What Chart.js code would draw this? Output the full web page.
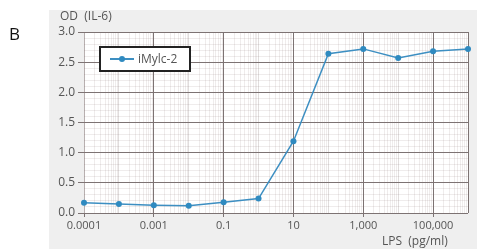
<!DOCTYPE html>
<html>
<head>
<meta charset="utf-8">
<script src="https://cdn.jsdelivr.net/npm/chart.js@4/dist/chart.umd.min.js"></script>
<style>
  html,body{margin:0;padding:0;background:#fff;width:477px;height:249px;overflow:hidden;font-family:"Open Sans",sans-serif;}
  #wrap{position:relative;width:477px;height:249px;}
  #panel{position:absolute;left:49px;top:10px;width:428px;height:239px;background:#efefef;}
  canvas{position:absolute;left:0;top:0;}
  .txt{position:absolute;white-space:nowrap;color:#555;font-size:12px;line-height:14px;}
  #lbB{left:9px;top:24px;font-size:17px;line-height:20px;color:#111;}
  #lbY{left:60px;top:9px;}
  #lbX{left:382px;top:234px;}
  #legend{position:absolute;left:99px;top:46px;width:88px;height:22px;border:2px solid #222;background:#fff;}
  #legend .ln{position:absolute;left:9px;top:10px;width:24px;height:2px;background:#3d8fc2;}
  #legend .pt{position:absolute;left:18px;top:8px;width:6px;height:6px;border-radius:50%;background:#2f8ac0;}
  #legend .tx{position:absolute;left:37px;top:3px;font-size:12px;line-height:15px;color:#555;}
</style>
</head>
<body>
<div id="wrap">
  <div id="panel"></div>
  <canvas id="c" width="477" height="249"></canvas>
  <div class="txt" id="lbB">B</div>
  <div class="txt" id="lbY">OD&nbsp; (IL-6)</div>
  <div class="txt" id="lbX">LPS&nbsp; (pg/ml)</div>
  <div id="legend"><div class="ln"></div><div class="pt"></div><div class="tx">iMylc-2</div></div>
</div>
<script>
// ---- data ----
const seriesName = "iMylc-2";
const lpsConc = [0.00001, 0.0001, 0.001, 0.01, 0.1, 1, 10, 100, 1000, 10000, 100000, 1000000];
const odValues = [0.17, 0.15, 0.13, 0.12, 0.18, 0.24, 1.19, 2.64, 2.72, 2.57, 2.68, 2.72];
const xTickValues = [0.00001, 0.001, 0.1, 10, 1000, 100000];
const xTickLabels = ["0.0001", "0.001", "0.1", "10", "1,000", "100,000"];
const yTickValues = [0, 0.5, 1, 1.5, 2, 2.5, 3];
const yTickLabels = ["0.0", "0.5", "1.0", "1.5", "2.0", "2.5", "3.0"];

const MAJOR = "#7d7373", MINOR = "rgba(120,100,100,0.12)", DECADE = "rgba(120,100,100,0.22)";

function near(a, b){ return Math.abs(a - b) <= Math.abs(b) * 1e-6 + 1e-12; }
function xLabelIndex(v){ return xTickValues.findIndex(t => near(v, t)); }
function yLabelIndex(v){ return yTickValues.findIndex(t => Math.abs(v - t) < 1e-6); }
function isDecade(v){ const e = Math.round(Math.log10(v)); return near(v, Math.pow(10, e)); }

const plotBg = {
  id: 'plotBg',
  beforeDraw(chart){
    const {ctx, chartArea:a} = chart;
    ctx.save();
    ctx.fillStyle = '#ffffff';
    ctx.fillRect(a.left, a.top, a.right - a.left, a.bottom - a.top);
    ctx.restore();
  }
};

const data = lpsConc.map((x, i) => ({x: x, y: odValues[i]}));

new Chart(document.getElementById('c'), {
  type: 'line',
  data: { datasets: [{
    label: seriesName,
    data: data,
    borderColor: '#3d8fc2',
    backgroundColor: '#2f8ac0',
    borderWidth: 1.5,
    pointRadius: 3,
    pointHoverRadius: 3,
    pointBorderWidth: 0,
    tension: 0,
    clip: false
  }]},
  plugins: [plotBg],
  options: {
    responsive: false,
    animation: false,
    events: [],
    layout: { padding: { top: 32, right: 9, left: 0, bottom: 0 } },
    plugins: { legend: { display: false }, tooltip: { enabled: false } },
    scales: {
      x: {
        type: 'logarithmic',
        min: 0.00001,
        max: 1000000,
        afterFit(s){ s.height = 36; },
        afterBuildTicks(s){
          const t = [];
          for (let e = -5; e < 6; e++) {
            for (let m = 1; m <= 9; m++) t.push({ value: m * Math.pow(10, e) });
          }
          t.push({ value: 1000000 });
          s.ticks = t;
        },
        border: { display: false },
        grid: {
          drawOnChartArea: true,
          tickLength: 4,
          color(ctx){
            const v = ctx.tick && ctx.tick.value;
            if (v === undefined) return MINOR;
            if (near(v, 1000000)) return MAJOR;
            if (near(v, 0.00001)) return '#b8b0b0';
            if (xLabelIndex(v) >= 0) return MAJOR;
            if (isDecade(v)) return DECADE;
            return MINOR;
          },
          tickColor(ctx){
            const v = ctx.tick && ctx.tick.value;
            return (v !== undefined && xLabelIndex(v) >= 0) ? MAJOR : 'rgba(0,0,0,0)';
          },
          lineWidth: 1
        },
        ticks: {
          autoSkip: false,
          maxRotation: 0,
          padding: 2,
          color: '#555',
          font: { family: '"Open Sans", sans-serif', size: 11 },
          callback(v){ const i = xLabelIndex(v); return i >= 0 ? xTickLabels[i] : ''; }
        }
      },
      y: {
        type: 'linear',
        min: 0,
        max: 3,
        afterFit(s){ s.width = 84; },
        border: { display: false },
        grid: {
          tickLength: 6,
          color(ctx){
            const v = ctx.tick && ctx.tick.value;
            if (v === undefined) return MINOR;
            return yLabelIndex(v) >= 0 ? MAJOR : MINOR;
          },
          tickColor(ctx){
            const v = ctx.tick && ctx.tick.value;
            return (v !== undefined && yLabelIndex(v) >= 0) ? MAJOR : 'rgba(0,0,0,0)';
          },
          lineWidth: 1
        },
        ticks: {
          stepSize: 0.1,
          autoSkip: false,
          padding: 3,
          color: '#555',
          font: { family: '"Open Sans", sans-serif', size: 12 },
          callback(v){ const i = yLabelIndex(v); return i >= 0 ? yTickLabels[i] : ''; }
        }
      }
    }
  }
});
</script>
</body>
</html>
